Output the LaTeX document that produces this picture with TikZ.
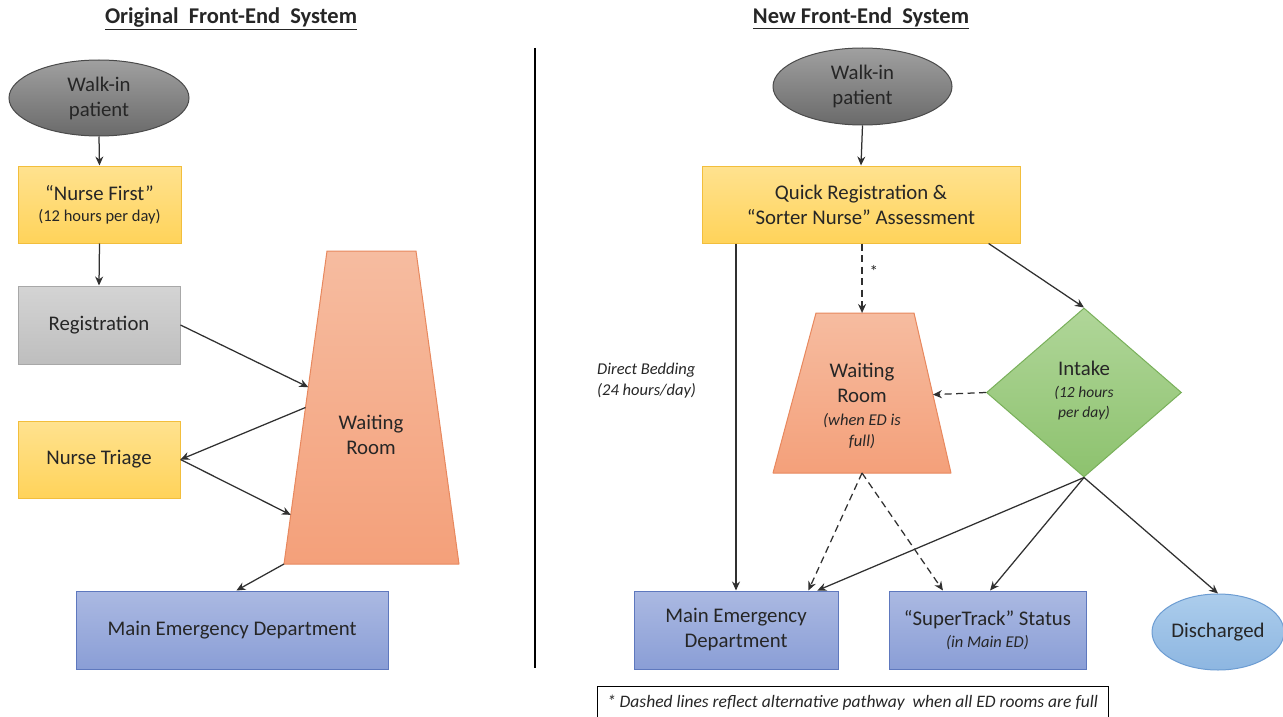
\documentclass[tikz,border=0pt]{standalone}
\usepackage{fontspec}
\setmainfont{Carlito}
\usetikzlibrary{shapes.geometric,arrows.meta,calc}
\definecolor{txt}{HTML}{262626}
\definecolor{lnc}{HTML}{303030}
\definecolor{grayT}{HTML}{A0A0A0}\definecolor{grayB}{HTML}{6A6A6A}\definecolor{grayD}{HTML}{4A4A4A}
\definecolor{yelT}{HTML}{FFE28F}\definecolor{yelB}{HTML}{FFD35A}\definecolor{yelD}{HTML}{F2BE3C}
\definecolor{regT}{HTML}{D4D4D4}\definecolor{regB}{HTML}{BEBEBE}\definecolor{regD}{HTML}{A8A8A8}
\definecolor{orT}{HTML}{F6BCA0}\definecolor{orB}{HTML}{F4A07A}\definecolor{orD}{HTML}{E8885E}
\definecolor{bluT}{HTML}{ABB9E2}\definecolor{bluB}{HTML}{8A9ED6}\definecolor{bluD}{HTML}{5E78BE}
\definecolor{grnT}{HTML}{B0D699}\definecolor{grnB}{HTML}{8DC26E}\definecolor{grnD}{HTML}{79B05A}
\definecolor{dcT}{HTML}{ACCDEC}\definecolor{dcB}{HTML}{8DB6E1}\definecolor{dcD}{HTML}{6C9CD2}
\newcommand\fsmain{\fontsize{20.8}{25}\selectfont}
\newcommand\fsit{\fontsize{16.5}{21}\selectfont\itshape}
\newcommand\fsttl{\fontsize{22.5}{26}\selectfont\bfseries}
\tikzset{
  base/.style={inner sep=0pt, align=center, text=txt, font=\fsmain, line width=1pt},
  ybox/.style={base, rectangle, draw=yelD, top color=yelT, bottom color=yelB},
  gbox/.style={base, rectangle, draw=regD, top color=regT, bottom color=regB},
  bbox/.style={base, rectangle, draw=bluD, top color=bluT, bottom color=bluB},
  walk/.style={base, ellipse, draw=grayD, top color=grayT, bottom color=grayB},
  flow/.style={draw=lnc, line width=1.25pt, -{Stealth[length=9pt,width=8pt]}},
  dflow/.style={flow, dash pattern=on 7pt off 4.5pt},
  lbl/.style={inner sep=0pt, text=txt},
}
\begin{document}
\begin{tikzpicture}[x=1pt,y=-1pt]
\useasboundingbox (0,0) rectangle (1283,717);
\fill[white] (0,0) rectangle (1283,717);

% ---------------- Titles & divider
\node[lbl, font=\fsttl] (t1) at (231,19) {\underline{Original\ \ Front-End\ \ System}};
\node[lbl, font=\fsttl] (t2) at (861,18) {\underline{New Front-End\ \ System}};
\draw[line width=1.5pt, black] (535,48) -- (535,668);

% ---------------- Left diagram
\node[walk, minimum width=180pt, minimum height=76pt] (lw) at (99,98) {Walk-in\\patient};
\node[ybox, minimum width=163pt, minimum height=77pt] (nf) at (99.5,204.5)
   {``Nurse First''\\[-4pt]{\fontsize{16.5}{19}\selectfont(12 hours per day)}};
\node[gbox, minimum width=162pt, minimum height=78pt] (reg) at (99,325) {Registration};
\node[ybox, minimum width=162pt, minimum height=77pt] (nt) at (99,459.5) {Nurse Triage};
\node[bbox, minimum width=312pt, minimum height=78pt] (med1) at (232,630) {Main Emergency Department};

\coordinate (w1TL) at (327,251);
\coordinate (w1TR) at (416,251);
\coordinate (w1BR) at (459,564);
\coordinate (w1BL) at (284,564);
\path[top color=orT, bottom color=orB] (w1TL) -- (w1TR) -- (w1BR) -- (w1BL) -- cycle;
\draw[orD, line width=1pt, line join=round] (w1TL) -- (w1TR) -- (w1BR) -- (w1BL) -- cycle;
\node[lbl, font=\fsmain, align=center] (wr1) at (371,435) {Waiting\\Room};
\coordinate (w1a) at ($(w1TL)!0.435!(w1BL)$);
\coordinate (w1b) at ($(w1TL)!0.50!(w1BL)$);
\coordinate (w1c) at ($(w1TL)!0.843!(w1BL)$);

\draw[flow] (lw.south) -- (nf.north);
\draw[flow] (nf.south) -- (reg.north);
\draw[flow] (reg.east) -- (w1a);
\draw[flow] (w1b) -- (nt.east);
\draw[flow] (nt.east) -- (w1c);
\draw[flow] (w1BL) -- ($(med1.north west)!0.514!(med1.north east)$);

% ---------------- Right diagram
\node[walk, minimum width=179pt, minimum height=77pt] (rw) at (862.5,86.5) {Walk-in\\patient};
\node[ybox, minimum width=318pt, minimum height=77pt] (qr) at (861,204.5)
   {Quick Registration \&\\``Sorter Nurse'' Assessment};

\coordinate (w2TL) at (816,313);
\coordinate (w2TR) at (914,313);
\coordinate (w2BR) at (951,473);
\coordinate (w2BL) at (773,473);
\path[top color=orT, bottom color=orB] (w2TL) -- (w2TR) -- (w2BR) -- (w2BL) -- cycle;
\draw[orD, line width=1pt, line join=round] (w2TL) -- (w2TR) -- (w2BR) -- (w2BL) -- cycle;
\node[lbl, align=center, font=\fsmain] (wr2) at (862,406)
   {Waiting\\Room\\[-2pt]{\fsit (when ED is}\\[-4pt]{\fsit full)}};
\coordinate (w2top) at ($(w2TL)!0.47!(w2TR)$);
\coordinate (w2bot) at ($(w2BL)!0.5!(w2BR)$);
\coordinate (w2r) at ($(w2TR)!0.51!(w2BR)$);

\node[base, diamond, draw=grnD, top color=grnT, bottom color=grnB,
      minimum width=195pt, minimum height=169pt] (ik) at (1084,392.5) {};
\node[lbl, align=center, font=\fsmain] (ikt) at (1084,391)
   {Intake\\[-3pt]{\fontsize{15.5}{18}\selectfont\itshape (12 hours}\\[-5pt]{\fontsize{15.5}{18}\selectfont\itshape per day)}};

\node[bbox, minimum width=204pt, minimum height=78pt] (med2) at (736,630) {Main Emergency\\Department};
\node[bbox, minimum width=197pt, minimum height=78pt] (st) at (987.5,630)
   {``SuperTrack'' Status\\[-3pt]{\fsit (in Main ED)}};
\node[base, ellipse, draw=dcD, top color=dcT, bottom color=dcB,
      minimum width=132pt, minimum height=76pt] (dis) at (1218,632) {Discharged};

\draw[flow] (rw.south) -- (qr.north);
\draw[flow] (qr.south -| med2.north) -- (med2.north);
\draw[dflow] (qr.south -| w2top) -- node[lbl, right=7pt, pos=0.4, font=\fontsize{17}{18}\selectfont] (ast) {*} (w2top);
\draw[flow] ($(qr.south west)!0.90!(qr.south east)$) -- (ik.north);
\draw[dflow] (ik.west) -- (w2r);
\draw[dflow] (w2bot) -- ($(med2.north west)!0.853!(med2.north east)$);
\draw[dflow] (w2bot) -- ($(st.north west)!0.275!(st.north east)$);
\draw[flow] (ik.south) -- ($(med2.north west)!0.897!(med2.north east)$);
\draw[flow] (ik.south) -- ($(st.north west)!0.513!(st.north east)$);
\draw[flow] (ik.south) -- (dis.north);

\node[lbl, align=left, anchor=west, font=\fsit] (db) at (597,381) {Direct Bedding\\(24 hours/day)};

\node[lbl, draw=black, line width=1pt, minimum width=511pt, minimum height=32pt, font=\fontsize{17.5}{20}\selectfont\itshape] (fn) at (852.5,702.5)
   {* Dashed lines reflect alternative pathway\ \ when all ED rooms are full};
\end{tikzpicture}
\end{document}
